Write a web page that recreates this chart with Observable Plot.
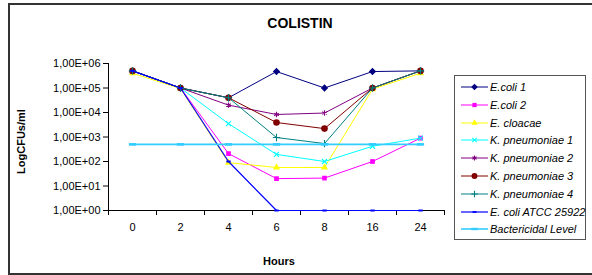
<!DOCTYPE html>
<html>
<head>
<meta charset="utf-8">
<script src="https://cdn.jsdelivr.net/npm/d3@7"></script>
<script src="https://cdn.jsdelivr.net/npm/@observablehq/plot@0.6"></script>
<style>
  html, body { margin: 0; padding: 0; background: #fff; }
  #wrap { position: relative; width: 592px; height: 275px; overflow: hidden; font-family: "Liberation Sans", Arial, sans-serif; }
  #frame { position: absolute; left: 8px; top: 3px; width: 620px; height: 268px; border: 2px solid #333; box-sizing: content-box; }
  #chart { position: absolute; left: 0; top: 0; }
  #title { position: absolute; left: 200px; width: 200px; top: 15px; text-align: center; font-weight: bold; font-size: 14px; line-height: 16px; }
  #xlabel { position: absolute; left: 229px; width: 100px; top: 255px; text-align: center; font-weight: bold; font-size: 11px; line-height: 13px; }
  #ylabel { position: absolute; left: -29.5px; width: 100px; top: 134.5px; text-align: center; font-weight: bold; font-size: 11px; line-height: 13px; transform: rotate(-90deg); }
  #legend { position: absolute; left: 454px; top: 75px; width: 130px; height: 163px; border: 1px solid #555; background: #fff; }
  .row { position: absolute; left: 0; height: 18px; width: 130px; }
  .row svg { position: absolute; left: 0; top: 0; }
  .row span { position: absolute; left: 35px; top: 2px; font-style: italic; font-size: 11px; line-height: 14px; white-space: nowrap; }
</style>
</head>
<body>
<div id="wrap">
  <div id="frame"></div>
  <div id="chart"></div>
  <div id="title">COLISTIN</div>
  <div id="xlabel">Hours</div>
  <div id="ylabel">LogCFUs/ml</div>
  <div id="legend"></div>
</div>
<script>
// ---- data ----
const hours = ["0", "2", "4", "6", "8", "16", "24"];
const yTicks = [1, 10, 100, 1000, 10000, 100000, 1000000];
const seriesNames = ["E.coli 1", "E.coli 2", "E. cloacae", "K. pneumoniae 1", "K. pneumoniae 2", "K. pneumoniae 3", "K. pneumoniae 4", "E. coli ATCC 25922", "Bactericidal Level"];
const ecoli1 = [5e5, 1e5, 4e4, 4.7e5, 1e5, 4.7e5, 5e5];
const ecoli2 = [5e5, 1e5, 2.1e2, 20, 21, 1e2, 9e2];
const cloacae = [4e5, 9.5e4, 90, 57, 57, 9e4, 4e5];
const kpn1 = [5e5, 1e5, 3.5e3, 1.95e2, 1e2, 4.2e2, 9e2];
const kpn2 = [5e5, 1e5, 2e4, 8.3e3, 9.5e3, 1e5, 5e5];
const kpn3 = [5e5, 1e5, 4e4, 3.9e3, 2.2e3, 1e5, 5e5];
const kpn4 = [5e5, 1e5, 4e4, 9.5e2, 5.4e2, 1e5, 5e5];
const atcc = [5e5, 1e5, 1e2, 1, 1, 1, 1];
const bactericidal = [5e2, 5e2, 5e2, 5e2, 5e2, 5e2, 5e2];
const seriesValues = [ecoli1, ecoli2, cloacae, kpn1, kpn2, kpn3, kpn4, atcc, bactericidal];
const colors = ["#000080", "#FF00FF", "#FFFF00", "#00FFFF", "#800080", "#800000", "#008080", "#0000FF", "#33CCFF"];

// ---- styles ----
const smallDash = { draw(ctx, size) { const r = Math.sqrt(size / Math.PI); ctx.rect(-r, -r * 0.45, 2 * r, r * 0.9); } };
const wideDash = { draw(ctx, size) { const r = Math.sqrt(size / Math.PI); ctx.rect(-r * 1.5, -r * 0.55, 3 * r, r * 1.1); } };
const symbols = ["diamond2", "square2", "triangle2", "times", "asterisk", "circle", "plus", smallDash, wideDash];
const d3Symbols = [d3.symbolDiamond2, d3.symbolSquare2, d3.symbolTriangle2, d3.symbolTimes, d3.symbolAsterisk, d3.symbolCircle, d3.symbolPlus, smallDash, wideDash];
const filled = [true, true, true, false, false, true, false, true, true];
const radii = [3.3, 3, 3.4, 2.4, 2.5, 3.3, 2.5, 2.2, 2.4];
const widths = [1, 1, 1, 1, 1, 1, 1, 1.2, 1.6];

const boundaries = d3.range(8).map(i => i - 0.5);
const fmt = v => "1,00E+" + String(Math.round(Math.log10(v))).padStart(2, "0");

const marks = [
  Plot.axisY({ ticks: yTicks, tickFormat: fmt, tickSize: 5, tickPadding: 3, label: null, fontSize: 11, stroke: "#000" }),
  Plot.axisX({ ticks: boundaries, tickSize: 5, tickFormat: () => "", label: null, stroke: "#000" }),
  Plot.axisX({ ticks: d3.range(hours.length), tickSize: 0, tickPadding: 13, tickFormat: i => hours[i], label: null, fontSize: 11 }),
  Plot.ruleX([-0.5], { stroke: "#000" }),
  Plot.ruleY([1], { stroke: "#000", strokeWidth: 1.2 })
];

seriesNames.forEach((name, k) => {
  const rows = seriesValues[k].map((v, i) => ({ i, v }));
  marks.push(Plot.line(rows, { x: "i", y: "v", stroke: colors[k], strokeWidth: widths[k] }));
  const dotOpts = { x: "i", y: "v", r: radii[k], symbol: symbols[k] };
  if (filled[k]) { dotOpts.fill = colors[k]; dotOpts.stroke = "none"; }
  else { dotOpts.stroke = colors[k]; dotOpts.fill = "none"; dotOpts.strokeWidth = 1.1; }
  marks.push(Plot.dot(rows, dotOpts));
});

const chart = Plot.plot({
  width: 592, height: 275,
  marginLeft: 108, marginRight: 148, marginTop: 63, marginBottom: 65,
  x: { type: "linear", domain: [-0.5, 6.5] },
  y: { type: "log", domain: [1, 1e6] },
  style: { fontFamily: "'Liberation Sans', Arial, sans-serif", fontSize: "11px", background: "transparent", color: "#000" },
  marks
});
document.getElementById("chart").appendChild(chart);

// ---- legend ----
const legend = d3.select("#legend");
seriesNames.forEach((name, k) => {
  const row = legend.append("div").attr("class", "row").style("top", (2 + k * 17.8) + "px");
  const svg = row.append("svg").attr("width", 36).attr("height", 18);
  svg.append("line").attr("x1", 6).attr("x2", 33).attr("y1", 9).attr("y2", 9).attr("stroke", colors[k]).attr("stroke-width", widths[k]);
  const r = radii[k] * 0.9;
  svg.append("path")
    .attr("transform", "translate(19.5,9)")
    .attr("d", d3.symbol(d3Symbols[k], r * r * Math.PI)())
    .attr("fill", filled[k] ? colors[k] : "none")
    .attr("stroke", filled[k] ? "none" : colors[k])
    .attr("stroke-width", 1.1);
  row.append("span").text(name);
});
</script>
</body>
</html>
